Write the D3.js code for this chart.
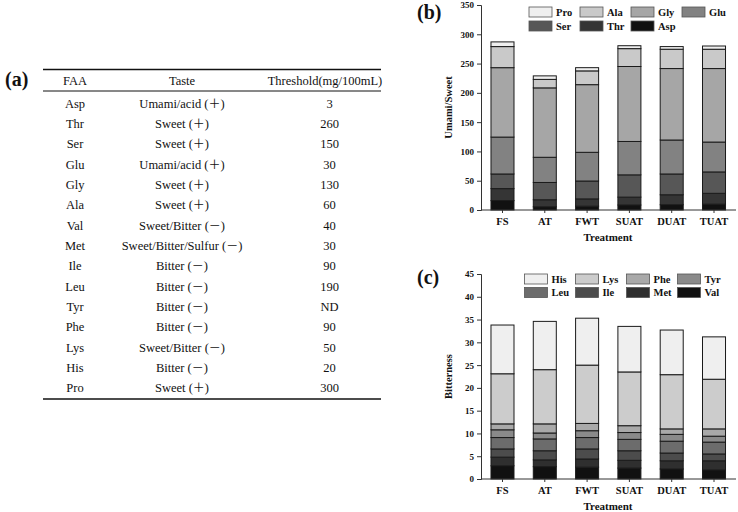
<!DOCTYPE html>
<html>
<head>
<meta charset="utf-8">
<script src="https://cdn.jsdelivr.net/npm/d3@7"></script>
<style>
  body { margin: 0; background: #fff; }
  text { font-family: "Liberation Serif", "Times New Roman", serif; fill: #111; }
</style>
</head>
<body>
<div id="fig"></div>
<script>
// table (a)
const faa = ["Asp", "Thr", "Ser", "Glu", "Gly", "Ala", "Val", "Met", "Ile", "Leu", "Tyr", "Phe", "Lys", "His", "Pro"];
const taste = ["Umami/acid (＋)", "Sweet (＋)", "Sweet (＋)", "Umami/acid (＋)", "Sweet (＋)", "Sweet (＋)",
  "Sweet/Bitter (－)", "Sweet/Bitter/Sulfur (－)", "Bitter (－)", "Bitter (－)", "Bitter (－)", "Bitter (－)",
  "Sweet/Bitter (－)", "Bitter (－)", "Sweet (＋)"];
const threshold = ["3", "260", "150", "30", "130", "60", "40", "30", "90", "190", "ND", "90", "50", "20", "300"];

// bars
const treatments = ["FS", "AT", "FWT", "SUAT", "DUAT", "TUAT"];

// (b) umami / sweet, stacked bottom -> top
const sweetKeys = ["Asp", "Thr", "Ser", "Glu", "Gly", "Ala", "Pro"];
const Asp = [16, 5.5, 6.5, 8.5, 9, 10];
const Thr = [20.5, 12, 12.5, 13.5, 17, 18.5];
const Ser = [25, 29.5, 30.5, 38, 35.5, 36.5];
const Glu = [63, 43, 49, 57, 58, 51];
const Gly = [118.5, 118.5, 115.5, 128, 122, 125.5];
const Ala = [36, 14.5, 23.5, 30.5, 33, 33];
const Pro = [8, 6, 5.5, 5, 4.5, 5.5];
const sweetColors = ["#111111", "#353535", "#575757", "#828282", "#a6a6a6", "#c9c9c9", "#efefef"];
const sweetLegend = ["Pro", "Ala", "Gly", "Glu", "Ser", "Thr", "Asp"];
const sweetTicks = [0, 50, 100, 150, 200, 250, 300, 350];

// (c) bitterness, stacked bottom -> top
const bitterKeys = ["Val", "Met", "Ile", "Leu", "Tyr", "Phe", "Lys", "His"];
const Val = [2.9, 2.7, 2.6, 2.4, 2.2, 2.0];
const Met = [1.9, 1.5, 1.8, 1.7, 1.8, 2.0];
const Ile = [1.8, 2.0, 2.2, 2.1, 1.7, 1.5];
const Leu = [2.5, 2.6, 2.5, 2.5, 2.6, 2.6];
const Tyr = [1.7, 1.3, 1.5, 1.5, 1.5, 1.3];
const Phe = [1.3, 2.0, 1.6, 1.5, 1.2, 1.6];
const Lys = [11.0, 11.9, 12.8, 11.8, 11.9, 10.9];
const His = [10.7, 10.6, 10.3, 10.0, 9.8, 9.3];
const bitterColors = ["#111111", "#2f2f2f", "#4c4c4c", "#6c6c6c", "#8a8a8a", "#a9a9a9", "#cccccc", "#efefef"];
const bitterLegend = ["His", "Lys", "Phe", "Tyr", "Leu", "Ile", "Met", "Val"];
const bitterTicks = [0, 5, 10, 15, 20, 25, 30, 35, 40, 45];

const svg = d3.select("#fig").append("svg")
  .attr("width", 738)
  .attr("height", 512);

function draw_table() {
  const g = svg.append("g");
  g.append("text").attr("x", 5).attr("y", 86)
    .style("font-size", "20px").style("font-weight", "bold").text("(a)");

  const cols = [75, 182, 329.5];
  const rule = (y, w) => g.append("line").attr("x1", 43).attr("x2", 381)
    .attr("y1", y).attr("y2", y).attr("stroke", "#111").attr("stroke-width", w);
  rule(69.5, 1.5);
  rule(91, 1);
  rule(399, 1.5);

  const head = ["FAA", "Taste", "Threshold(mg/100mL)"];
  const headX = [75, 182, 325];
  g.selectAll(".head").data(head).join("text")
    .attr("x", (d, i) => headX[i]).attr("y", 81).attr("dy", "0.35em")
    .attr("text-anchor", "middle").style("font-size", "12.5px").text(d => d);

  const y = d3.scalePoint().domain(d3.range(faa.length)).range([103.5, 387.8]);
  const rows = g.selectAll(".row").data(faa).join("g")
    .attr("transform", (d, i) => `translate(0,${y(i)})`);
  rows.append("text").attr("x", cols[0]).attr("dy", "0.35em").attr("text-anchor", "middle")
    .style("font-size", "12.5px").text(d => d);
  // taste: the full-width sign gets a CJK font so it keeps its wide shape
  rows.append("text").attr("x", cols[1]).attr("dy", "0.35em").attr("text-anchor", "middle")
    .style("font-size", "12.5px")
    .each(function(d, i) {
      const s = taste[i];
      const k = s.indexOf("(");
      const t = d3.select(this);
      t.append("tspan").text(s.slice(0, k + 1));
      t.append("tspan").style("font-family", "'Noto Sans CJK SC', sans-serif")
        .style("font-size", "12px").text(s.slice(k + 1, k + 2));
      t.append("tspan").text(")");
    });
  rows.append("text").attr("x", cols[2]).attr("dy", "0.35em").attr("text-anchor", "middle")
    .style("font-size", "12.5px").text((d, i) => threshold[i]);
}

function draw_stack(opt) {
  const g = svg.append("g");
  const x = d3.scaleBand().domain(treatments)
    .range([481, 735.5]).paddingInner(0.456).paddingOuter(0.236);
  const y = d3.scaleLinear().domain([0, opt.max]).range([opt.bottom, opt.top]);

  // build table rows for d3.stack
  const table = treatments.map((t, i) => {
    const row = { t: t };
    opt.keys.forEach((k, j) => row[k] = opt.series[j][i]);
    return row;
  });
  const stacked = d3.stack().keys(opt.keys)(table);

  g.selectAll(".layer").data(stacked).join("g")
    .attr("fill", (d, i) => opt.colors[i])
    .selectAll("rect").data(d => d).join("rect")
    .attr("x", d => x(d.data.t))
    .attr("y", d => y(d[1]))
    .attr("width", x.bandwidth())
    .attr("height", d => y(d[0]) - y(d[1]))
    .attr("stroke", "#1a1a1a")
    .attr("stroke-width", 1);

  // axes
  const ya = g.append("g").attr("transform", `translate(481,0)`)
    .call(d3.axisLeft(y).tickValues(opt.ticks).tickSize(4).tickPadding(3));
  ya.selectAll("text").style("font-size", "9px").style("font-weight", "bold")
    .style("font-family", "Liberation Serif, serif");
  const xa = g.append("g").attr("transform", `translate(0,${opt.bottom})`)
    .call(d3.axisBottom(x).tickSize(3).tickPadding(5).tickSizeOuter(0));
  xa.selectAll("text").style("font-size", "10.5px").style("font-weight", "bold")
    .style("font-family", "Liberation Serif, serif");
  g.selectAll(".domain, .tick line").attr("stroke", "#333");
  xa.select(".domain").attr("d", `M481,0H736`);

  g.append("text").attr("x", 608).attr("y", opt.bottom + 31)
    .attr("text-anchor", "middle").style("font-size", "11px").style("font-weight", "bold")
    .text("Treatment");
  g.append("text")
    .attr("transform", `translate(452,${(opt.top + opt.bottom) / 2}) rotate(-90)`)
    .attr("text-anchor", "middle").style("font-size", "10.5px").style("font-weight", "bold")
    .text(opt.ytitle);
  g.append("text").attr("x", 417).attr("y", opt.labelY)
    .style("font-size", "20px").style("font-weight", "bold").text(opt.label);

  // legend, two rows of four columns
  const lg = g.selectAll(".leg").data(opt.legend).join("g")
    .attr("transform", (d, i) => `translate(${opt.legX + (i % 4) * 51},${opt.legY + Math.floor(i / 4) * opt.legRow})`);
  lg.append("rect").attr("width", 23).attr("height", 10)
    .attr("fill", d => opt.colors[opt.keys.indexOf(d)])
    .attr("stroke", "#555").attr("stroke-width", 0.8);
  lg.append("text").attr("x", 27).attr("y", 5).attr("dy", "0.35em")
    .style("font-size", "10.5px").style("font-weight", "bold").text(d => d);
}

draw_table();

draw_stack({
  keys: sweetKeys, series: [Asp, Thr, Ser, Glu, Gly, Ala, Pro], colors: sweetColors,
  legend: sweetLegend,
  max: 350, ticks: sweetTicks, top: 5, bottom: 210,
  ytitle: "Umami/Sweet", label: "(b)", labelY: 19,
  legX: 529, legY: 7, legRow: 14
});

draw_stack({
  keys: bitterKeys, series: [Val, Met, Ile, Leu, Tyr, Phe, Lys, His], colors: bitterColors,
  legend: bitterLegend,
  max: 45, ticks: bitterTicks, top: 274, bottom: 479,
  ytitle: "Bitterness", label: "(c)", labelY: 284,
  legX: 524.5, legY: 274, legRow: 13.5
});
</script>
</body>
</html>
